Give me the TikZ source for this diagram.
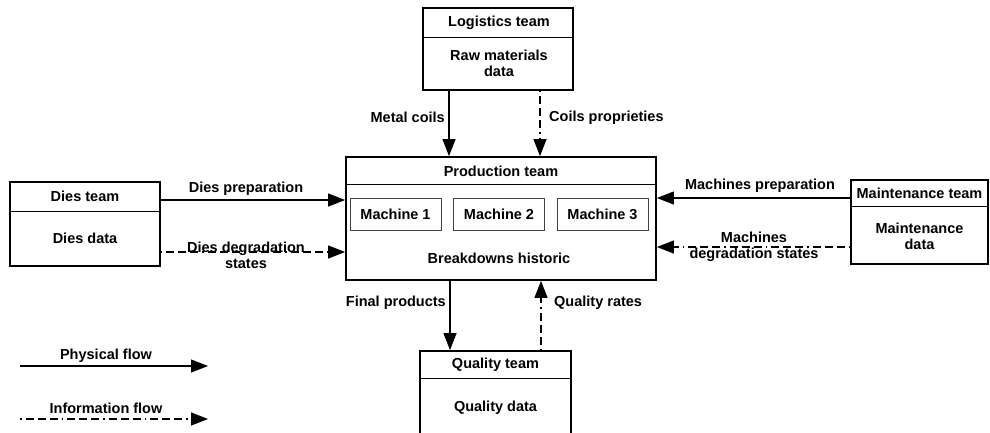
\documentclass[tikz,border=0pt]{standalone}
\usepackage{fontspec}
\setmainfont{Liberation Sans}
\usetikzlibrary{arrows.meta}
\begin{document}
\begin{tikzpicture}[x=1pt,y=-1pt,
  font=\fontsize{14.5}{16}\selectfont\bfseries,
  outer/.style={draw, line width=1.8pt, inner sep=0pt, anchor=center},
  divider/.style={line width=0.9pt},
  machbox/.style={draw=black!75, line width=0.9pt, minimum width=91pt, minimum height=32pt, inner sep=0pt},
  lbl/.style={inner sep=0pt, align=center},
  phys/.style={line width=1.1pt, -{Triangle[length=17pt,width=13pt]}},
  info/.style={line width=1.1pt, dash pattern=on 1.5pt off 4pt on 8pt off 4pt on 8pt off 4pt on 8pt off 4pt, -{Triangle[length=17pt,width=13pt]}}
]
\useasboundingbox (0,0) rectangle (990,432);

% Logistics team
\node[outer, minimum width=150pt, minimum height=82pt] (log) at (498,49) {};
\draw[divider] (log.west |- 0,37) coordinate (logdl) -- (log.east |- 0,37) coordinate (logdr);
\node[lbl] (logt) at (499,22.5) {Logistics team};
\node[lbl] (logd) at (499,63) {Raw materials\\data};

% Production team
\node[outer, minimum width=310pt, minimum height=123pt] (prod) at (501,218.5) {};
\draw[divider] (prod.west |- 0,184) coordinate (proddl) -- (prod.east |- 0,184) coordinate (proddr);
\node[lbl] (prodt) at (501,171) {Production team};
\node[machbox] (m1) at (395.5,214) {Machine 1};
\node[machbox] (m2) at (499,214) {Machine 2};
\node[machbox] (m3) at (602.5,214) {Machine 3};
\node[lbl] (brk) at (499,258.5) {Breakdowns historic};

% Dies team
\node[outer, minimum width=150pt, minimum height=84pt] (dies) at (85,224) {};
\draw[divider] (dies.west |- 0,211) coordinate (diesdl) -- (dies.east |- 0,211) coordinate (diesdr);
\node[lbl] (diest) at (85,196.5) {Dies team};
\node[lbl] (diesd) at (85,238.5) {Dies data};

% Maintenance team
\node[outer, minimum width=137pt, minimum height=84pt] (mnt) at (919.5,222) {};
\draw[divider] (mnt.west |- 0,206) coordinate (mntdl) -- (mnt.east |- 0,206) coordinate (mntdr);
\node[lbl] (mntt) at (919.5,193.5) {Maintenance team};
\node[lbl] (mntd) at (919.5,236.5) {Maintenance\\data};

% Quality team
\node[outer, minimum width=151pt, minimum height=89pt] (qual) at (495.5,395.5) {};
\draw[divider] (qual.west |- 0,378) coordinate (qualdl) -- (qual.east |- 0,378) coordinate (qualdr);
\node[lbl] (qualt) at (495.5,364.5) {Quality team};
\node[lbl] (quald) at (495.5,407.5) {Quality data};

% Connectors
\draw[phys] ([xshift=-49pt]log.south) -- ([xshift=-49pt]log.south |- prod.north);
\draw[info] ([xshift=42pt]log.south) -- ([xshift=42pt]log.south |- prod.north);
\node[lbl, anchor=east] (lmc) at (445,117.5) {Metal coils};
\node[lbl, anchor=west] (lcp) at (549,117.5) {Coils proprieties};

\draw[phys] ([yshift=24pt]dies.east) -- ([yshift=24pt]dies.east -| prod.west);
\draw[info] ([yshift=-28pt]dies.east) -- ([yshift=-28pt]dies.east -| prod.west);
\node[lbl] (ldp) at (246,189) {Dies preparation};
\node[lbl] (ldd) at (246,255.5) {Dies degradation\\states};

\draw[phys] ([yshift=24pt]mnt.west) -- ([yshift=24pt]mnt.west -| prod.east);
\draw[info] ([yshift=-25pt]mnt.west) -- ([yshift=-25pt]mnt.west -| prod.east);
\node[lbl] (lmp) at (760,185.5) {Machines preparation};
\node[lbl] (lmd) at (754,246.5) {Machines\\degradation states};

\draw[phys] ([xshift=-45.5pt]qual.north |- prod.south) -- ([xshift=-45.5pt]qual.north);
\draw[info] ([xshift=45.5pt]qual.north) -- ([xshift=45.5pt]qual.north |- prod.south);
\node[lbl, anchor=east] (lfp) at (446,302.5) {Final products};
\node[lbl, anchor=west] (lqr) at (554,302.5) {Quality rates};

% Legend
\coordinate (pa) at (20,366);
\coordinate (pb) at (208,366);
\draw[phys] (pa) -- (pb);
\node[lbl] (lpf) at (106,355.5) {Physical flow};
\coordinate (ia) at (20,419);
\coordinate (ib) at (208,419);
\draw[info] (ia) -- (ib);
\node[lbl] (lif) at (106,408.5) {Information flow};
\end{tikzpicture}
\end{document}
